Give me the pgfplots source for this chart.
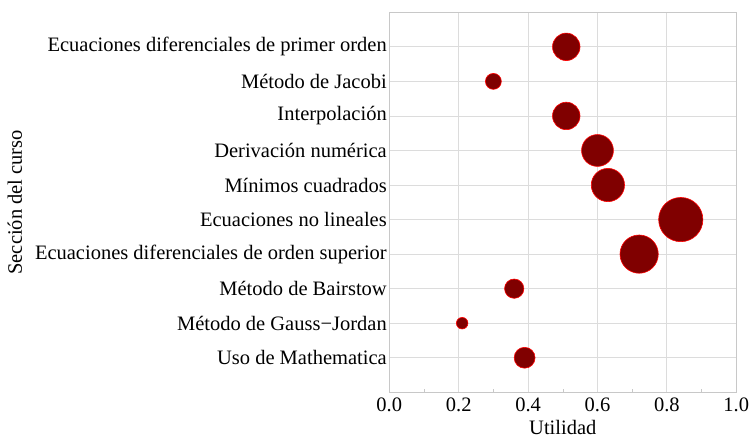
\documentclass[border=0pt]{standalone}
\usepackage{pgfplots}
\pgfplotsset{compat=1.18}
\usepackage{fontspec}
\setmainfont{Liberation Serif}
\definecolor{bubfill}{HTML}{800000}
\definecolor{gridc}{HTML}{DCDCDC}
\definecolor{framec}{HTML}{C8C8C8}
\begin{document}
\begin{tikzpicture}
\begin{axis}[
  scale only axis,
  width=347bp, height=380bp,
  at={(0,0)}, anchor=south west,
  xmin=0, xmax=1, ymin=0, ymax=11,
  xtick={0,0.2,0.4,0.6,0.8,1.0},
  minor x tick num=1,
  x tick label style={/pgf/number format/fixed, /pgf/number format/fixed zerofill, /pgf/number format/precision=1},
  /pgf/number format/assume math mode=true,
  ytick={1,...,10},
  yticklabels={Uso de Mathematica\ ,Método de Gauss−Jordan,Método de Bairstow,Ecuaciones diferenciales de orden superior,Ecuaciones no lineales,Mínimos cuadrados,Derivación numérica,Interpolación,Método de Jacobi,Ecuaciones diferenciales de primer orden},
  tick label style={font=\fontsize{20.5bp}{24bp}\selectfont},
  label style={font=\fontsize{20.5bp}{24bp}\selectfont},
  major tick length=0pt,
  minor tick length=3bp,
  minor tick style={framec},
  xtick pos=bottom, ytick pos=left,
  yticklabel style={xshift=1bp},
  xticklabel style={yshift=-2bp},
  grid=major,
  major grid style={gridc, line width=0.8bp},
  axis line style={framec, line width=0.8bp},
  xlabel={Utilidad},
  ylabel={Sección del curso},
  xlabel style={yshift=-4bp, inner sep=1bp},
  ylabel style={yshift=6bp},
  clip=false,
]
\addplot[scatter, only marks, mark=*,
  scatter src=explicit,
  scatter/use mapped color={draw=red, fill=bubfill},
  mark options={line width=0.6bp},
  visualization depends on={\thisrow{r} \as \perpointmarksize},
  scatter/@pre marker code/.append style={/tikz/mark size=\perpointmarksize}]
  table[x=x, y=y, meta=r] {
x     y   r
0.51  10  13.8
0.30  9   8.0
0.51  8   13.8
0.60  7   16.0
0.63  6   16.7
0.84  5   22.2
0.72  4   19.2
0.36  3   9.7
0.21  2   5.8
0.39  1   10.5
};
\end{axis}
\pgfresetboundingbox
\path[use as bounding box] (-389.3bp,-48.7bp) rectangle (360.7bp,392.3bp);
\end{tikzpicture}
\end{document}
